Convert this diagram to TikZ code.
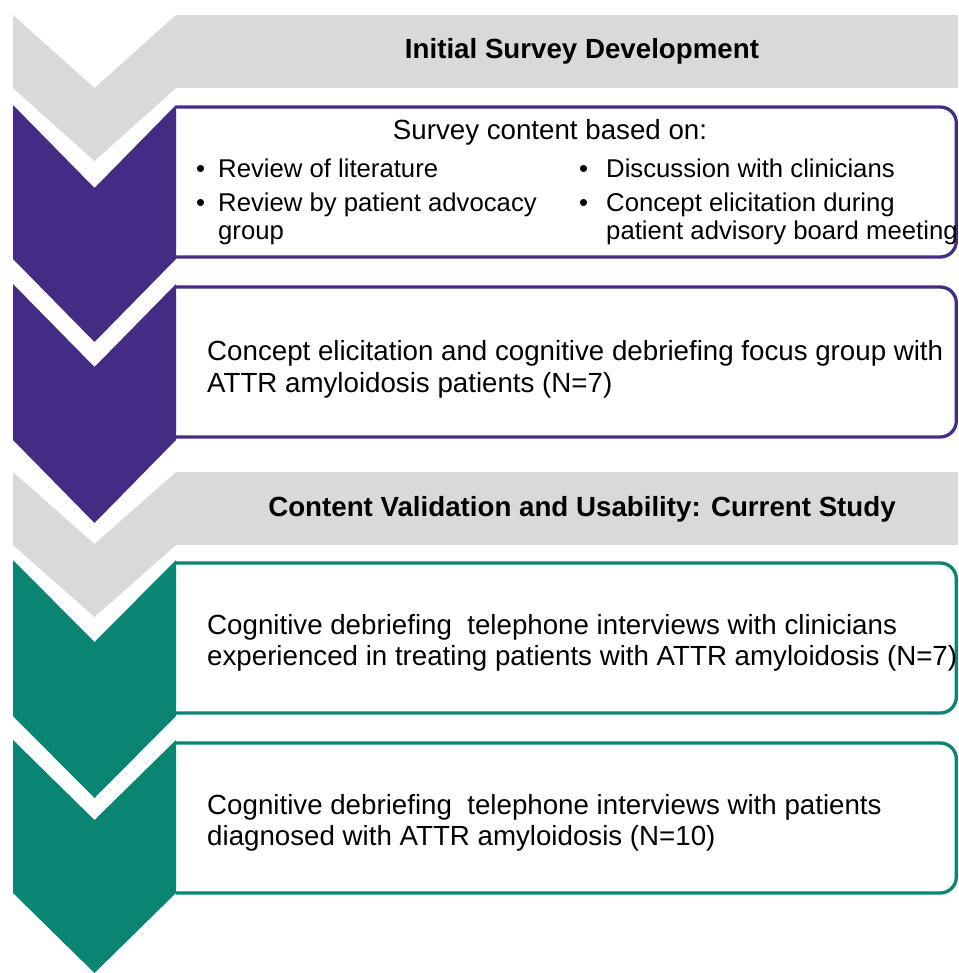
\documentclass[tikz,border=0pt]{standalone}
\usepackage{fontspec}
\setmainfont{Liberation Sans}
\definecolor{cgray}{RGB}{217,217,217}
\definecolor{cpurple}{RGB}{68,44,133}
\definecolor{cteal}{RGB}{10,132,115}
\tikzset{
  maintxt/.style={inner sep=0, anchor=base west, font=\fontsize{27.7}{32}\selectfont},
  bultxt/.style={inner sep=0, anchor=base west, font=\fontsize{25.7}{29}\selectfont},
  bulmark/.style={inner sep=0, anchor=base west, font=\fontsize{25.7}{29}\selectfont},
  headtxt/.style={inner sep=0, anchor=base, font=\fontsize{27.7}{32}\selectfont\bfseries},
  boxline/.style={line width=3.3pt, rounded corners=16pt},
  headbox/.style={fill=cgray, rounded corners=3pt},
}
\newcommand\mychev[4]{\fill[#1] (13,#2) -- (94.5,{#2+#4}) -- (176,#2) -- (176,#3) -- (94.5,{#3+#4}) -- (13,#3) -- cycle;}
\begin{document}
\begin{tikzpicture}[x=1pt,y=-1pt]
\useasboundingbox (0,0) rectangle (958,973);
% header bars
\fill[cgray] (175.5,15) -- (958,15) -- (958,88) -- (175.5,88) -- cycle;
\fill[cgray] (175.5,472) -- (958,472) -- (958,545) -- (175.5,545) -- cycle;
% boxes
\draw[boxline, cpurple] (176,107) -- (956.3,107) -- (956.3,257) -- (176,257);
\draw[boxline, cpurple] (176,287) -- (956.3,287) -- (956.3,437) -- (176,437);
\draw[boxline, cteal] (176,563) -- (956.3,563) -- (956.3,713) -- (176,713);
\draw[boxline, cteal] (176,743) -- (956.3,743) -- (956.3,893) -- (176,893);
% chevrons
\mychev{cgray}{15}{88}{73}
\mychev{cpurple}{105}{259}{83}
\mychev{cpurple}{284}{440}{83}
\mychev{cgray}{472}{545}{72}
\mychev{cteal}{560}{716}{82}
\mychev{cteal}{740}{893}{80}
% texts
\node[headtxt] (h1) at (582,59) {Initial Survey Development};
\node[inner sep=0, anchor=base, font=\fontsize{27.7}{32}\selectfont] (s0) at (550,140) {Survey content based on:};
\node[bulmark] (b1) at (196,178) {•};
\node[bultxt] (t1) at (218,178) {Review of literature};
\node[bulmark] (b2) at (196,212) {•};
\node[bultxt] (t2) at (218,212) {Review by patient advocacy};
\node[bultxt] (t2b) at (218,240) {group};
\node[bulmark] (b3) at (579,178) {•};
\node[bultxt] (t3) at (606,178) {Discussion with clinicians};
\node[bulmark] (b4) at (579,212) {•};
\node[bultxt] (t4) at (606,212) {Concept elicitation during};
\node[bultxt] (t4b) at (606,240) {patient advisory board meeting};
\node[maintxt] (p1) at (207,360) {Concept elicitation and cognitive debriefing focus group with};
\node[maintxt] (p2) at (207,392) {ATTR amyloidosis patients (N=7)};
\node[headtxt] (h2) at (582,516) {Content Validation and Usability: Current Study};
\node[maintxt] (c1) at (207,634) {Cognitive debriefing~ telephone interviews with clinicians};
\node[maintxt] (c2) at (207,665) {experienced in treating patients with ATTR amyloidosis (N=7)};
\node[maintxt] (d1) at (207,814) {Cognitive debriefing~ telephone interviews with patients};
\node[maintxt] (d2) at (207,845) {diagnosed with ATTR amyloidosis (N=10)};
\end{tikzpicture}
\end{document}
